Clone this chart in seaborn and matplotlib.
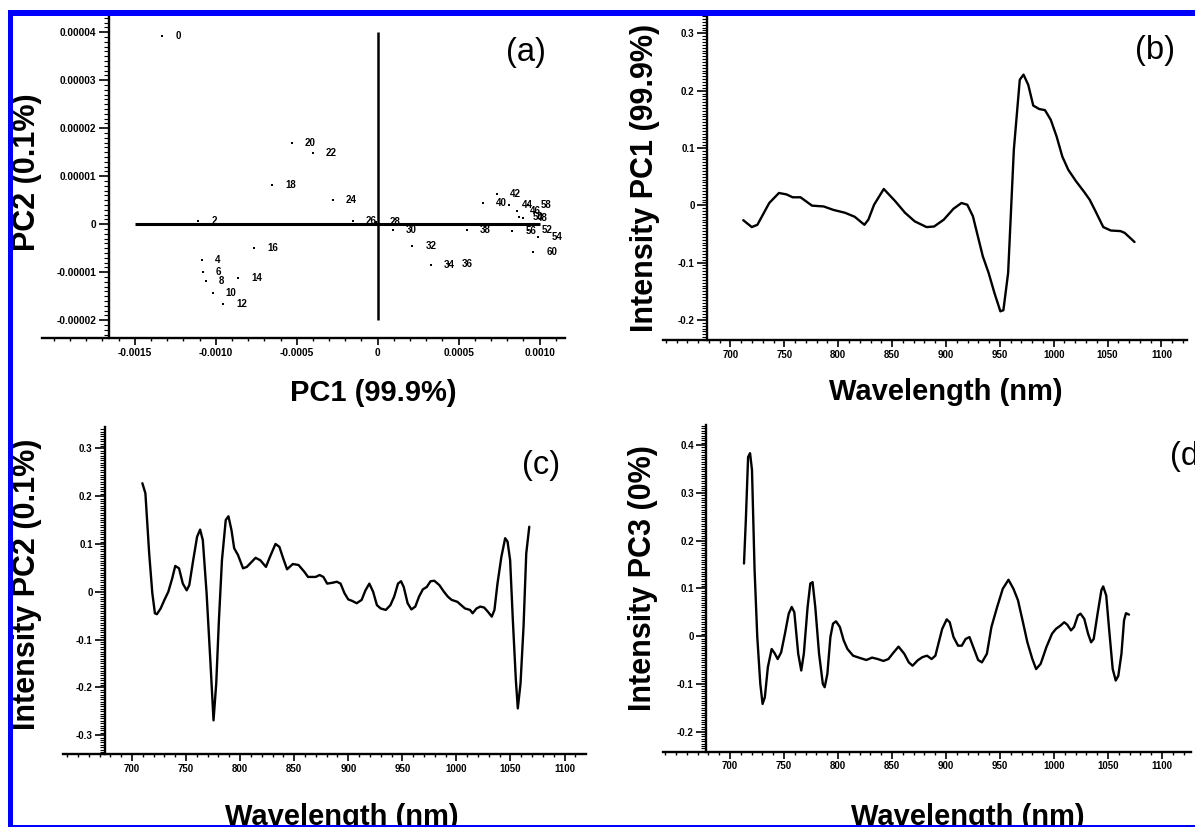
import matplotlib
matplotlib.use("Agg")
import matplotlib.pyplot as plt
from matplotlib.ticker import MultipleLocator
from matplotlib.patches import Rectangle
import seaborn as sns
import pandas as pd

# ---------------- data ----------------
# (a) PCA scores
sample_labels = ["0", "2", "4", "6", "8", "10", "12", "14", "16", "18", "20", "22", "24", "26", "28",
                 "30", "32", "34", "36", "38", "40", "42", "44", "46", "48", "50", "52", "54", "56", "58", "60"]
pc1_scores = [-0.001329, -0.001107, -0.001086, -0.00108, -0.00106, -0.001019, -0.000953, -0.000864,
              -0.000762, -0.00065, -0.00053, -0.0004, -0.000278, -0.000154, -0.00001,
              0.0000926, 0.000214, 0.000327, 0.00044, 0.000549, 0.00065, 0.000738, 0.00081,
              0.00086, 0.0009, 0.000875, 0.00093, 0.000993, 0.00083, 0.000928, 0.00096]
pc2_scores = [0.0000392, 0.0000007, -0.0000074, -0.0000099, -0.0000119, -0.0000144, -0.0000167, -0.0000111,
              -0.0000049, 0.0000082, 0.0000169, 0.0000148, 0.000005, 0.0000007, 0.0000005,
              -0.0000013, -0.0000046, -0.0000084, -0.0000083, -0.0000011, 0.0000044, 0.0000064, 0.0000041,
              0.0000028, 0.0000014, 0.0000016, -0.0000011, -0.0000027, -0.0000015, 0.000004, -0.0000058]
ref_h_x = [-0.0015, 0.0010]
ref_v_y = [-0.00002, 0.00004]

a_xticks = [-0.0015, -0.0010, -0.0005, 0.0, 0.0005, 0.0010]
a_xticklabels = ["-0.0015", "-0.0010", "-0.0005", "0", "0.0005", "0.0010"]
a_yticks = [-0.00002, -0.00001, 0.0, 0.00001, 0.00002, 0.00003, 0.00004]
a_yticklabels = ["-0.00002", "-0.00001", "0", "0.00001", "0.00002", "0.00003", "0.00004"]

# (b) PC1 loading
b_nm = [711.9, 719.8, 725, 736, 745, 752, 757.7, 765, 775.7, 786.5, 795.5, 806.3, 815.3, 824.3, 828,
        833.3, 842.3, 853, 862, 871, 882, 889, 898, 907, 914.4, 919.8, 925, 928.8, 934.2, 939.6,
        945, 950.5, 953.3, 957.7, 963, 968.5, 972, 976.4, 981, 986.5, 991.9, 997.3, 1002.7, 1008,
        1013.5, 1020.7, 1028, 1033.3, 1038.7, 1046, 1053, 1062, 1065.8, 1071, 1075]
b_val = [-0.026, -0.038, -0.034, 0.004, 0.0215, 0.019, 0.014, 0.014, -0.0006, -0.002, -0.008, -0.013,
         -0.020, -0.034, -0.025, 0.001, 0.0285, 0.007, -0.013, -0.028, -0.038, -0.037, -0.025, -0.006,
         0.004, 0.001, -0.019, -0.048, -0.089, -0.118, -0.153, -0.185, -0.183, -0.118, 0.097, 0.219,
         0.228, 0.21, 0.174, 0.168, 0.166, 0.149, 0.12, 0.085, 0.062, 0.042, 0.024, 0.010, -0.010,
         -0.038, -0.044, -0.045, -0.048, -0.057, -0.064]

# (c) PC2 loading
c_nm = [709.6, 712.4, 715.9, 718.8, 721.2, 723, 726.5, 730, 733.6, 737.2, 740, 743.5, 747, 750.6, 753,
        756.6, 760.2, 763, 765.5, 769, 772.6, 775.4, 777.9, 780.4, 783.2, 786.7, 789.2, 792, 794.5, 798,
        802.7, 806.2, 814.3, 818.6, 823.9, 827.4, 832.7, 836.3, 839.8, 843.4, 848.7, 854, 859.3, 862.8,
        869.9, 873.5, 877, 880.5, 885.8, 889.4, 892.9, 896.5, 900, 903.5, 907.8, 912.4, 915.9, 919.5,
        923, 926.5, 930, 934.7, 939, 942.5, 946, 948.8, 951.3, 954.9, 958.4, 962, 965.5, 969, 972.6,
        976.1, 979.6, 984.2, 988.5, 992, 995.6, 1000.9, 1004.4, 1008, 1012.6, 1015, 1018.6, 1022.1,
        1025.7, 1029.2, 1032.7, 1035.2, 1038, 1041.6, 1045.1, 1047.3, 1049.7, 1052.2, 1055, 1056.8,
        1059.3, 1062.1, 1064.6, 1067.4]
c_val = [0.227, 0.206, 0.080, -0.003, -0.045, -0.047, -0.035, -0.017, 0.0, 0.028, 0.054, 0.049, 0.017,
         0.003, 0.014, 0.066, 0.115, 0.130, 0.108, -0.003, -0.150, -0.269, -0.192, -0.059, 0.066, 0.150,
         0.158, 0.129, 0.091, 0.077, 0.049, 0.052, 0.071, 0.066, 0.052, 0.072, 0.100, 0.094, 0.070, 0.047,
         0.058, 0.056, 0.042, 0.031, 0.031, 0.035, 0.031, 0.017, 0.019, 0.021, 0.017, -0.003, -0.016,
         -0.019, -0.024, -0.017, 0.003, 0.017, 0.0, -0.028, -0.035, -0.038, -0.028, -0.010, 0.017, 0.022,
         0.010, -0.024, -0.037, -0.031, -0.010, 0.005, 0.010, 0.022, 0.023, 0.014, 0.0, -0.010, -0.017,
         -0.021, -0.028, -0.035, -0.038, -0.045, -0.035, -0.031, -0.033, -0.042, -0.052, -0.038, 0.017,
         0.073, 0.112, 0.105, 0.066, -0.059, -0.185, -0.244, -0.192, -0.073, 0.080, 0.136]

# (d) PC3 loading
d_nm = [713, 714.7, 716.8, 718.6, 720.4, 722.8, 725.3, 728.1, 730.2, 732.3, 735.1, 738.6, 741.4, 744.2,
        747.4, 750.9, 754.4, 757.2, 759.6, 763.2, 766, 768.4, 771.9, 774.4, 776.5, 779, 782.5, 786, 787.7,
        790.2, 793, 795.4, 798.2, 801.8, 805.3, 808.8, 814, 819.3, 826.3, 831.6, 836.8, 842.1, 846.7,
        851.6, 856.1, 861.4, 865.6, 869.1, 873.7, 878.2, 882.5, 886.7, 890.2, 893, 896.5, 900.7, 903.5,
        907, 911.2, 914.7, 918.2, 921.8, 925.3, 929.8, 933.3, 937.9, 942.1, 947.4, 952.6, 957.9, 962.5,
        966.7, 970.9, 975.4, 980, 983.5, 987.7, 993, 998.2, 1001.8, 1006, 1009.5, 1012.3, 1015.8, 1018.6,
        1022.1, 1024.6, 1028.1, 1031.6, 1034.4, 1036.8, 1040.4, 1043.9, 1045.6, 1048.4, 1050.9, 1054.4,
        1057.2, 1059.6, 1062.5, 1064.9, 1066.7, 1069.5]
d_val = [0.152, 0.243, 0.375, 0.383, 0.348, 0.138, -0.002, -0.1, -0.142, -0.128, -0.065, -0.027, -0.036,
         -0.048, -0.034, 0.005, 0.047, 0.061, 0.050, -0.037, -0.072, -0.037, 0.061, 0.110, 0.113, 0.061,
         -0.037, -0.1, -0.107, -0.079, -0.002, 0.026, 0.031, 0.019, -0.009, -0.027, -0.041, -0.045, -0.050,
         -0.045, -0.048, -0.052, -0.048, -0.034, -0.022, -0.037, -0.055, -0.062, -0.051, -0.044, -0.041,
         -0.048, -0.041, -0.016, 0.015, 0.035, 0.029, -0.002, -0.020, -0.020, -0.006, -0.002, -0.023,
         -0.050, -0.055, -0.037, 0.019, 0.061, 0.099, 0.118, 0.099, 0.075, 0.033, -0.013, -0.048, -0.069,
         -0.058, -0.023, 0.005, 0.015, 0.022, 0.029, 0.024, 0.012, 0.019, 0.043, 0.047, 0.036, 0.005,
         -0.013, -0.006, 0.047, 0.096, 0.104, 0.085, 0.019, -0.069, -0.093, -0.083, -0.037, 0.033, 0.048,
         0.045]

wl_ticks = [700, 750, 800, 850, 900, 950, 1000, 1050, 1100]
wl_ticklabels = ["700", "750", "800", "850", "900", "950", "1000", "1050", "1100"]
b_yticks = [-0.2, -0.1, 0.0, 0.1, 0.2, 0.3]
b_yticklabels = ["-0.2", "-0.1", "0", "0.1", "0.2", "0.3"]
c_yticks = [-0.3, -0.2, -0.1, 0.0, 0.1, 0.2, 0.3]
c_yticklabels = ["-0.3", "-0.2", "-0.1", "0", "0.1", "0.2", "0.3"]
d_yticks = [-0.2, -0.1, 0.0, 0.1, 0.2, 0.3, 0.4]
d_yticklabels = ["-0.2", "-0.1", "0", "0.1", "0.2", "0.3", "0.4"]

# ---------------- style ----------------
sns.set_style("ticks")
plt.rcParams['font.family'] = ['Liberation Sans', 'DejaVu Sans']
plt.rcParams['axes.edgecolor'] = 'black'
plt.rcParams['xtick.color'] = 'black'
plt.rcParams['ytick.color'] = 'black'
plt.rcParams['xtick.labelcolor'] = 'black'
plt.rcParams['ytick.labelcolor'] = 'black'
plt.rcParams['text.color'] = 'black'
plt.rcParams['axes.labelcolor'] = 'black'

W, H = 1195, 827
fig = plt.figure(figsize=(W / 100, H / 100), dpi=100)
fig.patch.set_facecolor('white')


def fx(x):
    return x / W


def fy(y):
    return 1 - y / H


def px_axes(l, t, r, b):
    return fig.add_axes([l / W, 1 - b / H, (r - l) / W, (b - t) / H])


def style(ax, xlim, ylim, yspine_x, xmaj, xlabs, xminor, ymaj, ylabs, yminor, lsize=7):
    ax.set_xlim(xlim)
    ax.set_ylim(ylim)
    ax.patch.set_visible(False)
    for s in ['top', 'right']:
        ax.spines[s].set_visible(False)
    ax.spines['left'].set_position(('data', yspine_x))
    for s in ['left', 'bottom']:
        ax.spines[s].set_linewidth(1.7)
        ax.spines[s].set_color('black')
    ax.set_xticks(xmaj)
    ax.set_xticklabels(xlabs)
    ax.xaxis.set_minor_locator(MultipleLocator(xminor))
    ax.set_yticks(ymaj)
    ax.set_yticklabels(ylabs)
    ax.yaxis.set_minor_locator(MultipleLocator(yminor))
    ax.tick_params(axis='x', which='major', length=5, width=1.2, direction='out', pad=2,
                   labelsize=lsize, colors='black')
    ax.tick_params(axis='x', which='minor', length=2.5, width=1.0, direction='out', colors='black')
    ax.tick_params(axis='y', which='major', length=7, width=1.2, direction='out', pad=2,
                   labelsize=lsize, colors='black')
    ax.tick_params(axis='y', which='minor', length=3.5, width=0.8, direction='out', colors='black')
    for lab in ax.get_xticklabels() + ax.get_yticklabels():
        lab.set_fontweight('bold')


def labels(ax, xl, xpos, yl, ypos, xs=21, ys=22):
    ax.set_xlabel(xl, fontsize=xs, fontweight='bold', color='black')
    ax.xaxis.set_label_coords(fx(xpos[0]), fy(xpos[1]), transform=fig.transFigure)
    ax.xaxis.label.set_va('center')
    ax.xaxis.label.set_ha('center')
    ax.set_ylabel(yl, fontsize=ys, fontweight='bold', color='black')
    ax.yaxis.set_label_coords(fx(ypos[0]), fy(ypos[1]), transform=fig.transFigure)
    ax.yaxis.label.set_va('center')
    ax.yaxis.label.set_ha('center')


# ---------------- (a) scores ----------------
axa = px_axes(42, 15, 564.5, 338)
df_a = pd.DataFrame({'PC1': pc1_scores, 'PC2': pc2_scores, 'sample': sample_labels})
sns.scatterplot(data=df_a, x='PC1', y='PC2', ax=axa, color='black', marker='s', s=3,
                linewidth=0, legend=False, zorder=3)
for xv, yv, lab in zip(df_a['PC1'], df_a['PC2'], df_a['sample']):
    axa.annotate(lab, (xv, yv), xytext=(9.5, 0), textcoords='offset points', ha='left', va='center',
                 fontsize=7, fontweight='bold', color='black')
axa.hlines(0, ref_h_x[0], ref_h_x[1], color='black', lw=2.2, zorder=2)
axa.vlines(0, ref_v_y[0], ref_v_y[1], color='black', lw=1.8, zorder=2)
style(axa, (-0.002073, 0.001154), (-0.0000237, 0.0000436), -0.001659,
      a_xticks, a_xticklabels, 0.0001, a_yticks, a_yticklabels, 0.000001, lsize=7.3)
labels(axa, 'PC1 (99.9%)', (373, 393), 'PC2 (0.1%)', (27, 172))

# ---------------- (b) ----------------
axb = px_axes(663, 15, 1187, 340)
sns.lineplot(x=b_nm, y=b_val, ax=axb, color='black', linewidth=1.7, estimator=None, sort=False)
style(axb, (637.4, 1123.7), (-0.235, 0.332), 678.4,
      wl_ticks, wl_ticklabels, 10, b_yticks, b_yticklabels, 0.005)
labels(axb, 'Wavelength (nm)', (946, 392), 'Intensity PC1 (99.9%)', (645, 177.5))

# ---------------- (c) ----------------
axc = px_axes(63, 427.3, 585.5, 754.3)
sns.lineplot(x=c_nm, y=c_val, ax=axc, color='black', linewidth=1.7, estimator=None, sort=False)
style(axc, (636.2, 1119.4), (-0.340, 0.344), 675.2,
      wl_ticks, wl_ticklabels, 10, c_yticks, c_yticklabels, 0.005)
labels(axc, 'Wavelength (nm)', (341.5, 817), 'Intensity PC2 (0.1%)', (27, 584.5))

# ---------------- (d) ----------------
axd = px_axes(663, 425, 1191, 751.7)
sns.lineplot(x=d_nm, y=d_val, ax=axd, color='black', linewidth=1.7, estimator=None, sort=False)
style(axd, (638, 1126.9), (-0.242, 0.442), 678.1,
      wl_ticks, wl_ticklabels, 10, d_yticks, d_yticklabels, 0.005)
labels(axd, 'Wavelength (nm)', (968, 817), 'Intensity PC3 (0%)', (643, 578))

# ---------------- panel letters ----------------
fig.text(fx(526), fy(52), '(a)', fontsize=23.5, ha='center', va='center', color='black')
fig.text(fx(1155), fy(50), '(b)', fontsize=23.5, ha='center', va='center', color='black')
fig.text(fx(541), fy(465), '(c)', fontsize=23.5, ha='center', va='center', color='black')
fig.text(fx(1170), fy(456), '(d)', fontsize=23.5, ha='left', va='center', color='black')

# ---------------- blue frame ----------------
blue = '#0000ff'
fig.add_artist(Rectangle((fx(8), 0), 5 / W, (827 - 10) / H, transform=fig.transFigure,
                         facecolor=blue, edgecolor='none', zorder=10))
fig.add_artist(Rectangle((fx(8), fy(15.5)), (1195 - 8) / W, 5.5 / H, transform=fig.transFigure,
                         facecolor=blue, edgecolor='none', zorder=10))
fig.add_artist(Rectangle((fx(8), 0), (1195 - 8) / W, 2 / H, transform=fig.transFigure,
                         facecolor=blue, edgecolor='none', zorder=10))

fig.savefig('out.png', dpi=100)
